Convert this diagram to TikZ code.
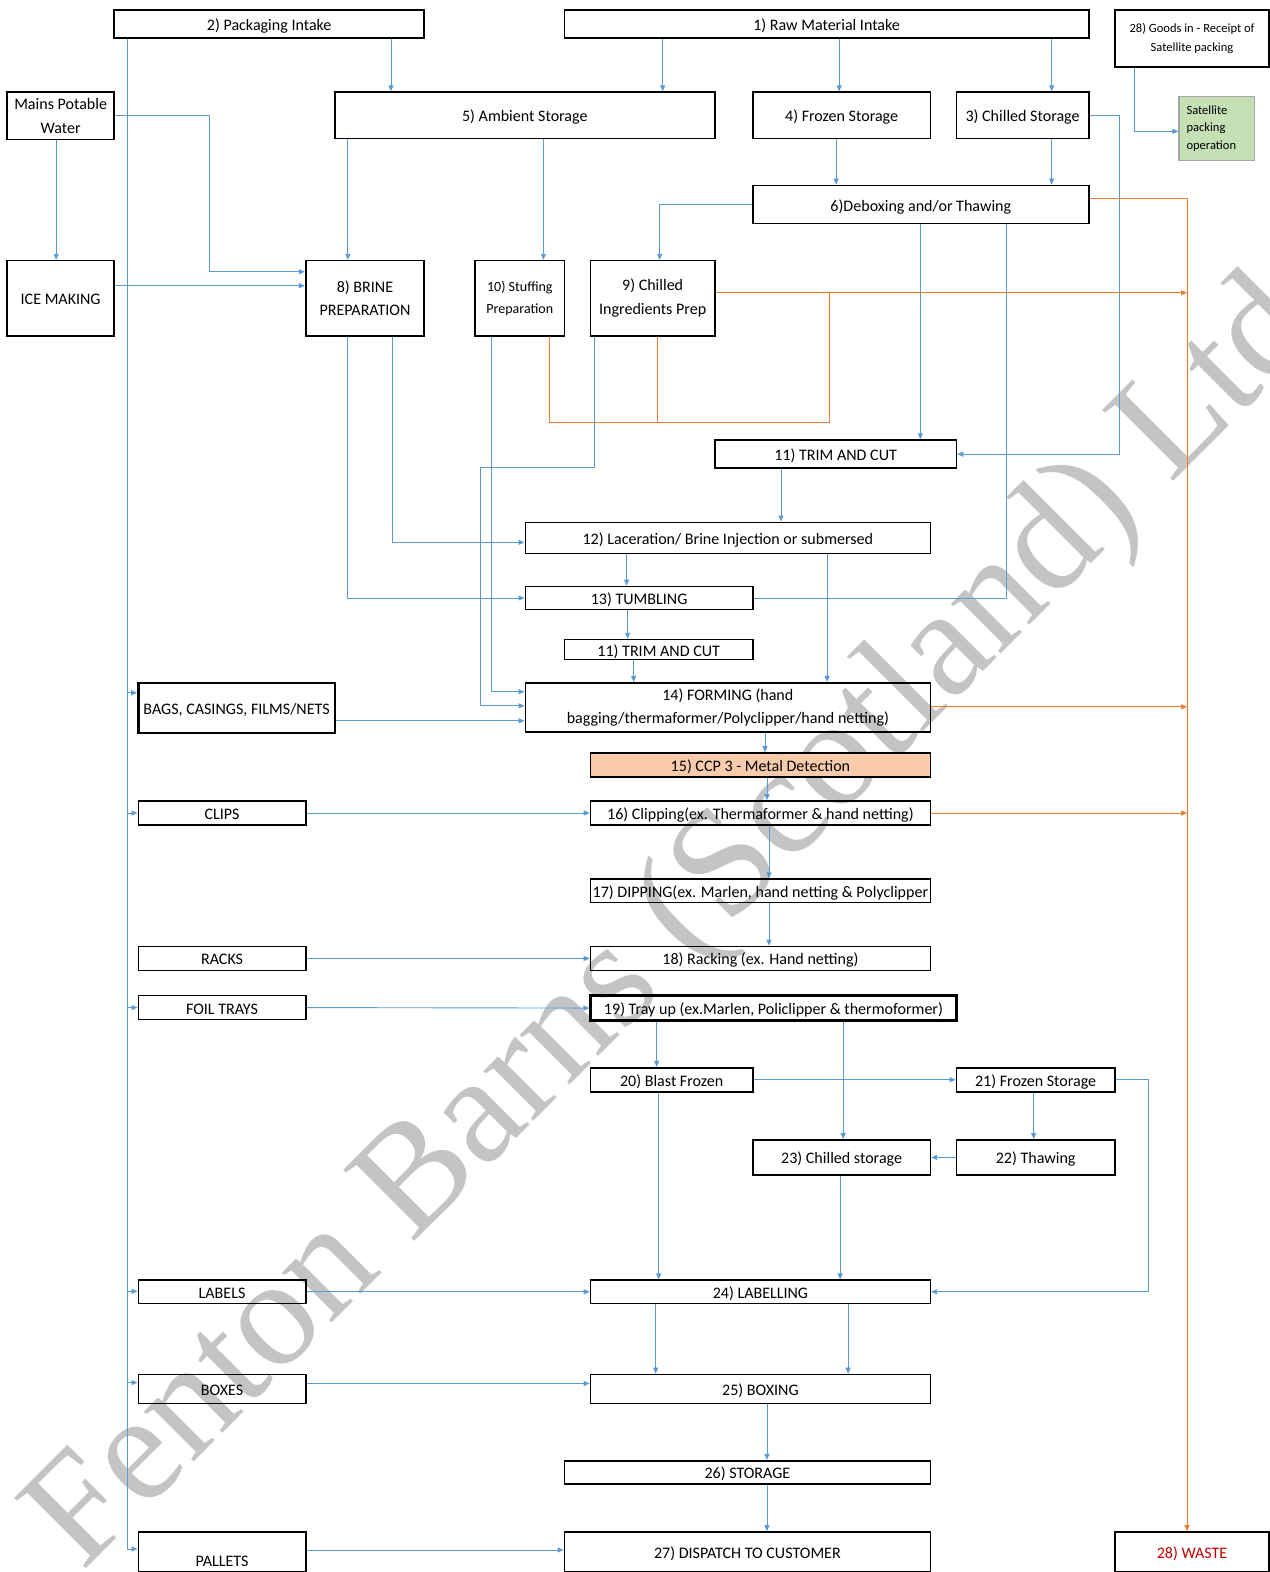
\documentclass[tikz,border=0pt]{standalone}
\usepackage{fontspec}
\setmainfont{Carlito}
\newfontfamily\wmfont{Liberation Serif}
\usetikzlibrary{arrows.meta}
\definecolor{flowblue}{HTML}{5B9BD5}
\definecolor{wasteor}{HTML}{ED7D31}
\definecolor{ccpfill}{HTML}{F8CBAD}
\definecolor{satfill}{HTML}{C5E0B4}
\definecolor{wastered}{HTML}{C00000}
\tikzset{
  box/.style={draw, line width=1.6pt, align=center, inner sep=0pt,
    text height=16pt, text depth=3pt, font=\fontsize{16}{23.5}\selectfont},
  twoline/.style={text height={}, text depth={}},
  heavybox/.style={box, line width=2.4pt},
  flow/.style={draw=flowblue, line width=0.9pt, -{Triangle[length=6pt,width=5pt]}},
  link/.style={draw=flowblue, line width=0.9pt},
  wasteflow/.style={draw=wasteor, line width=0.9pt, -{Triangle[length=6pt,width=5pt]}},
  wastelink/.style={draw=wasteor, line width=0.9pt},
  wm/.style={text=black!23, font=\wmfont\fontsize{153}{153}\selectfont},
}

\begin{document}
\begin{tikzpicture}[x=1pt, y=-1pt]

\useasboundingbox (0,0) rectangle (1266,1568);

% Watermark
\node[wm, rotate=45] (mark) at (674,925) {Fenton Barns (Scotland) Ltd};

% Intake row
\node[box, minimum width=309, minimum height=28] (pack) at (268.5,24) {2) Packaging Intake};
\node[box, minimum width=523, minimum height=28] (raw) at (824.5,24) {1) Raw Material Intake};
\node[box, twoline, minimum width=154, minimum height=57,
  font=\fontsize{12.5}{19}\selectfont] (goods) at (1189,38.5)
  {28) Goods in - Receipt of\\Satellite packing};
\node[draw=black!35, line width=1.2pt, fill=satfill, minimum width=75, minimum height=64,
  text width=60, align=left, inner sep=0pt, font=\fontsize{12.5}{17.5}\selectfont] (sat) at (1213.5,128)
  {Satellite\\packing\\operation};

% Storage row
\node[box, twoline, minimum width=107, minimum height=47] (mains) at (60.5,115.5) {Mains Potable\\Water};
\node[box, minimum width=379, minimum height=46] (amb) at (523.5,115) {5) Ambient Storage};
\node[box, minimum width=177, minimum height=46] (froz) at (839.5,115) {4) Frozen Storage};
\node[box, minimum width=132, minimum height=46] (chil) at (1020,115) {3) Chilled Storage};
\node[box, minimum width=335, minimum height=38] (debox) at (918.5,204) {6)Deboxing and/or Thawing};

% Preparation row
\node[box, minimum width=107, minimum height=75] (ice) at (60.5,297.5) {ICE MAKING};
\node[box, twoline, minimum width=118, minimum height=75] (brine) at (364,297.5) {8) BRINE\\PREPARATION};
\node[box, twoline, minimum width=89, minimum height=75,
  font=\fontsize{14}{22}\selectfont] (stuff) at (518.5,297.5)
  {10) Stuffing\\Preparation};
\node[box, twoline, minimum width=124, minimum height=75] (ingr) at (651,297.5) {9) Chilled\\Ingredients Prep};

% Main process column
\node[box, minimum width=241, minimum height=28] (trim) at (833.5,453) {11) TRIM AND CUT};
\node[box, minimum width=404, minimum height=31] (lac) at (726,536.5) {12) Laceration/ Brine Injection or submersed};
\node[box, minimum width=227, minimum height=23] (tumb) at (637.5,596.5) {13) TUMBLING};
\node[box, minimum width=188, minimum height=20] (trimb) at (657,648) {11) TRIM AND CUT};
\node[box, twoline, minimum width=404, minimum height=49] (form) at (726,705.5)
  {14) FORMING (hand\\bagging/thermaformer/Polyclipper/hand netting)};
\node[box, fill=ccpfill, minimum width=339, minimum height=24] (ccp) at (758.5,763) {15) CCP 3 - Metal Detection};
\node[box, minimum width=339, minimum height=24] (clip16) at (758.5,811) {16) Clipping(ex. Thermaformer \& hand netting)};
\node[box, minimum width=339, minimum height=23] (dip) at (758.5,888.5) {17) DIPPING(ex. Marlen, hand netting \& Polyclipper};
\node[box, minimum width=339, minimum height=24] (rack18) at (758.5,956) {18) Racking (ex. Hand netting)};
\node[heavybox, minimum width=365, minimum height=25] (tray) at (771.5,1005.5) {19) Tray up (ex.Marlen, Policlipper \& thermoformer)};
\node[box, minimum width=162, minimum height=24] (blast) at (670,1077) {20) Blast Frozen};
\node[box, minimum width=158, minimum height=24] (froz21) at (1033,1077) {21) Frozen Storage};
\node[box, minimum width=177, minimum height=35] (chil23) at (839.5,1154.5) {23) Chilled storage};
\node[box, minimum width=158, minimum height=35] (thaw) at (1033,1154.5) {22) Thawing};
\node[box, minimum width=339, minimum height=23] (labl) at (758.5,1288.5) {24) LABELLING};
\node[box, minimum width=339, minimum height=29] (boxing) at (758.5,1385.5) {25) BOXING};
\node[box, minimum width=365, minimum height=23] (stor) at (745.5,1468.5) {26) STORAGE};
\node[box, minimum width=365, minimum height=40] (disp) at (745.5,1548) {27) DISPATCH TO CUSTOMER};
\node[box, minimum width=154, minimum height=40, text=wastered] (waste) at (1189,1548) {28) WASTE};

% Packaging materials
\node[heavybox, minimum width=196, minimum height=50] (bags) at (236,706) {BAGS, CASINGS, FILMS/NETS};
\node[box, minimum width=167, minimum height=24] (clips) at (221.5,811) {CLIPS};
\node[box, minimum width=167, minimum height=24] (racks) at (221.5,956) {RACKS};
\node[box, minimum width=167, minimum height=24] (foil) at (221.5,1005) {FOIL TRAYS};
\node[box, minimum width=167, minimum height=23] (labels) at (221.5,1288.5) {LABELS};
\node[box, minimum width=167, minimum height=29] (boxes) at (221.5,1385.5) {BOXES};
\node[box, text height=0pt, text depth=0pt, minimum width=167, minimum height=40] (pallets) at (221.5,1548)
  {\raisebox{-14pt}[0pt][0pt]{PALLETS}};

% Intake and storage flows
\draw[flow] (390,0 |- pack.south) -- (390,0 |- amb.north);
\draw[flow] (661,0 |- raw.south) -- (661,0 |- amb.north);
\draw[flow] (837,0 |- raw.south) -- (837,0 |- froz.north);
\draw[flow] (1049,0 |- raw.south) -- (1049,0 |- chil.north);
\draw[flow] (1132,0 |- goods.south) |- (sat.west |- 0,131);
\draw[flow] (56,0 |- mains.south) -- (56,0 |- ice.north);
\draw[flow] (mains.east) -| (209,271) -- (brine.west |- 0,271);
\draw[flow] (ice.east |- 0,285) -- (brine.west |- 0,285);
\draw[flow] (347,0 |- amb.south) -- (347,0 |- brine.north);
\draw[flow] (542,0 |- amb.south) -- (542,0 |- stuff.north);
\draw[flow] (834,0 |- froz.south) -- (834,0 |- debox.north);
\draw[flow] (1049,0 |- chil.south) -- (1049,0 |- debox.north);
\draw[flow] (debox.west) -| (658,0 |- ingr.north);
\draw[flow] (chil.east) -| (1117,0 |- trim.east) -- (trim.east);
\draw[flow] (918,0 |- debox.south) -- (918,0 |- trim.north);
\draw[link] (1004,0 |- debox.south) |- (tumb.east);

% Preparation into the line
\draw[flow] (779,0 |- trim.south) -- (779,0 |- lac.north);
\draw[flow] (391,0 |- brine.south) |- (lac.west |- 0,541);
\draw[flow] (347,0 |- brine.south) |- (tumb.west);
\draw[flow] (490,0 |- stuff.south) |- (form.west |- 0,690);
\draw[flow] (593,0 |- ingr.south) |- (479,466) |- (form.west |- 0,704);
\draw[flow] (bags.east |- 0,719) -- (form.west |- 0,719);
\draw[flow] (625,0 |- lac.south) -- (625,0 |- tumb.north);
\draw[flow] (825,0 |- lac.south) -- (825,0 |- form.north);
\draw[flow] (626,0 |- tumb.south) -- (626,0 |- trimb.north);
\draw[flow] (632,0 |- trimb.south) -- (632,0 |- form.north);
\draw[flow] (763,0 |- form.south) -- (763,0 |- ccp.north);
\draw[flow] (765,0 |- ccp.south) -- (765,0 |- clip16.north);
\draw[flow] (clips.east) -- (clip16.west);
\draw[flow] (767,0 |- clip16.south) -- (767,0 |- dip.north);
\draw[flow] (767,0 |- dip.south) -- (767,0 |- rack18.north);
\draw[flow] (racks.east) -- (rack18.west);
\draw[flow] (foil.east) -- (tray.west);
\draw[flow] (655,0 |- tray.south) -- (655,0 |- blast.north);
\draw[flow] (841,0 |- tray.south) -- (841,0 |- chil23.north);
\draw[flow] (blast.east) -- (froz21.west);
\draw[flow] (1031,0 |- froz21.south) -- (1031,0 |- thaw.north);
\draw[flow] (thaw.west) -- (chil23.east);
\draw[flow] (froz21.east) -| (1146,0 |- labl.east) -- (labl.east);
\draw[flow] (657,0 |- blast.south) -- (657,0 |- labl.north);
\draw[flow] (838,0 |- chil23.south) -- (838,0 |- labl.north);
\draw[flow] (labels.east) -- (labl.west);
\draw[flow] (654,0 |- labl.south) -- (654,0 |- boxing.north);
\draw[flow] (846,0 |- labl.south) -- (846,0 |- boxing.north);
\draw[flow] (boxes.east |- 0,1380) -- (boxing.west |- 0,1380);
\draw[flow] (765,0 |- boxing.south) -- (765,0 |- stor.north);
\draw[flow] (765,0 |- stor.south) -- (765,0 |- disp.north);
\draw[flow] (pallets.east |- 0,1546) -- (disp.west |- 0,1546);

% Packaging supply line
\draw[flow] (127,0 |- pack.south) |- (pallets.west |- 0,1545);
\foreach \b/\y in {bags/691, clips/811, foil/1005, labels/1288, boxes/1379}
  \draw[flow] (127,\y) -- (\b.west |- 0,\y);

% Waste
\draw[wasteflow] (debox.east |- 0,198) -| (1184,0 |- waste.north);
\draw[wasteflow] (ingr.east |- 0,292) -- (1184,292);
\draw[wastelink] (548,0 |- stuff.south) |- (827,421) -- (827,292);
\draw[wastelink] (656,0 |- ingr.south) -- (656,421);
\draw[wasteflow] (form.east |- 0,705) -- (1184,705);
\draw[wasteflow] (clip16.east) -- (1184,811);

\end{tikzpicture}
\end{document}
